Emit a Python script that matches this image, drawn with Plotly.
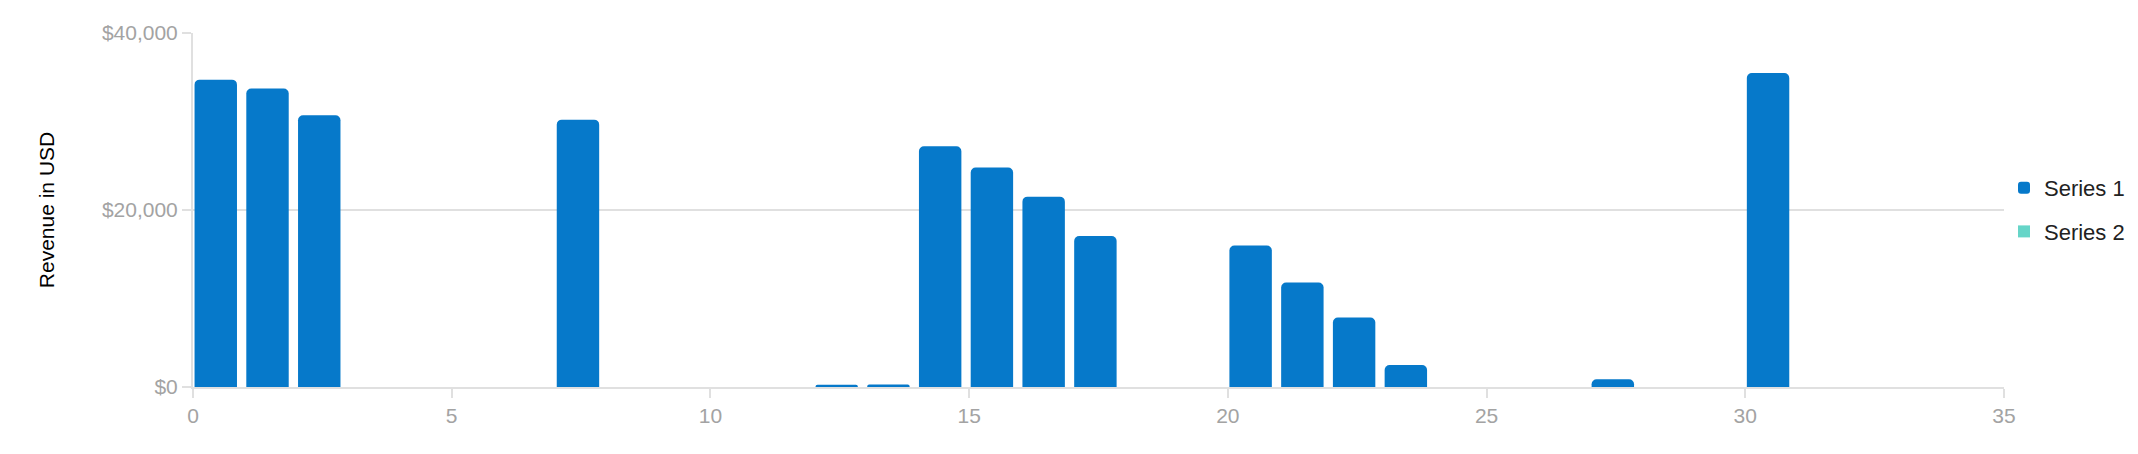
import plotly.graph_objects as go

# Data
days = [0, 1, 2, 7, 12, 13, 14, 15, 16, 17, 20, 21, 22, 23, 27, 30]
series1 = [34730, 33720, 30700, 30210, 260, 270, 27200, 24790, 21510, 17060,
           15980, 11800, 7840, 2490, 870, 35480]
series2 = [0, 0, 0, 0, 0, 0, 0, 0, 0, 0, 0, 0, 0, 0, 0, 0]

C1 = "#0679CA"
C2 = "#66D5C8"
GRID = "#E0E0E0"
TICKC = "#A3A3A3"

fig = go.Figure()
fig.add_trace(go.Bar(
    x=days, y=series1, name="Series 1", marker=dict(color=C1, line=dict(width=0), cornerradius=5),
    width=0.82, offset=0.03, legendgroup="a"))
fig.add_trace(go.Bar(
    x=days, y=series2, name="Series 2", marker=dict(color=C2, line=dict(width=0)),
    width=0.82, offset=0.03, legendgroup="b", showlegend=True, hoverinfo="skip"))

fig.update_layout(
    width=2130, height=446,
    margin=dict(l=185, r=134, t=25, b=67, autoexpand=False),
    paper_bgcolor="white", plot_bgcolor="white",
    barmode="overlay",
    font=dict(family="Liberation Sans, Arial, sans-serif"),
    showlegend=True,
    legend=dict(x=1.0, xanchor="left", y=0.5, yanchor="middle",
                font=dict(size=22, color="#222222"), itemwidth=30,
                tracegroupgap=12, traceorder="grouped", bgcolor="rgba(0,0,0,0)"),
    xaxis=dict(range=[0, 35], dtick=5, tick0=0, showgrid=False, zeroline=False,
               showline=True, linecolor=GRID, linewidth=2,
               ticks="outside", ticklen=9, tickcolor=GRID, tickwidth=2,
               tickfont=dict(size=21, color=TICKC), fixedrange=True),
    yaxis=dict(range=[0, 40000], dtick=20000, tick0=0, showgrid=True, gridcolor=GRID, gridwidth=2,
               zeroline=False, showline=True, linecolor=GRID, linewidth=2,
               ticks="outside", ticklen=9, tickcolor=GRID, tickwidth=2,
               tickprefix="$", tickformat=",", separatethousands=True,
               tickfont=dict(size=21, color=TICKC),
               title=dict(text="Revenue in USD", font=dict(size=21, color="#000000"), standoff=42)),
)

fig.write_html("out.html")
